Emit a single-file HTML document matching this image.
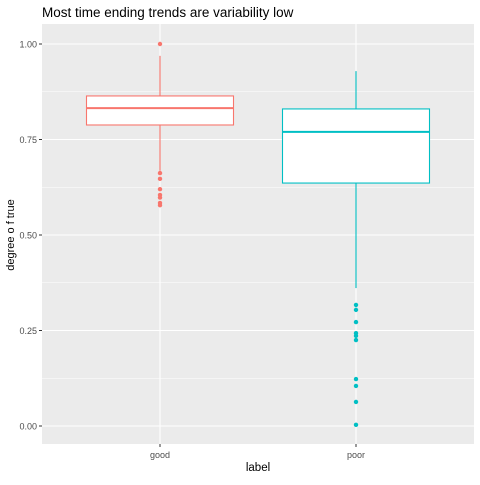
<!DOCTYPE html>
<html><head><meta charset="utf-8"><style>
body{margin:0;background:#fff;font-family:"Liberation Sans",Arial,sans-serif}
</style></head><body>
<svg id="chart" width="480" height="480" xmlns="http://www.w3.org/2000/svg">
<text x="42" y="17" font-size="13.5" fill="#000">Most time ending trends are variability low</text>
<rect x="42" y="24" width="432" height="420" fill="#EBEBEB"/>
<g id="grid"></g><g id="marks"></g><g id="axes"></g>
<text x="258" y="471" font-size="11.5" text-anchor="middle" fill="#000">label</text>
<text transform="translate(14,235) rotate(-90)" font-size="11" text-anchor="middle" fill="#000">degree o f true</text>
</svg>
<script>
const categories=["good","poor"];
const colors=["#F8766D","#00BFC4"];
const q1=[0.788,0.636];
const medians=[0.832,0.770];
const q3=[0.864,0.830];
const whiskLow=[0.668,0.361];
const whiskHigh=[0.969,0.929];
const outliersGood=[1.0,0.662,0.647,0.620,0.605,0.598,0.584,0.578];
const outliersPoor=[0.317,0.304,0.272,0.243,0.236,0.225,0.123,0.105,0.063,0.003];
const yTicks=[0,0.25,0.5,0.75,1.0];
const yTickLabels=["0.00","0.25","0.50","0.75","1.00"];
const NS="http://www.w3.org/2000/svg";
const y=v=>426-v*382;
const x=i=>160+i*196;
const halfW=73.5;
function mk(tag,attrs,parent){const e=document.createElementNS(NS,tag);for(const k in attrs)e.setAttribute(k,attrs[k]);document.getElementById(parent).appendChild(e);return e;}
for(let i=0;i<yTicks.length-1;i++){const v=(yTicks[i]+yTicks[i+1])/2;
const g=mk("line",{x1:42,x2:474,y1:y(v),y2:y(v),stroke:"#fff","stroke-width":0.6},"grid");

}
yTicks.forEach((v,i)=>{
const g=mk("line",{x1:42,x2:474,y1:y(v),y2:y(v),stroke:"#fff","stroke-width":1.1},"grid");


const t=mk("line",{x1:39,x2:42,y1:y(v),y2:y(v),stroke:"#333","stroke-width":1},"axes");


const l=mk("text",{x:37,y:y(v)+3.5,"font-size":9,"text-anchor":"end",fill:"#4D4D4D"},"axes");
l.textContent=yTickLabels[i];


});
categories.forEach((c,i)=>{
const g=mk("line",{x1:x(i),x2:x(i),y1:24,y2:444,stroke:"#fff","stroke-width":1.1},"grid");


const t=mk("line",{x1:x(i),x2:x(i),y1:444,y2:447,stroke:"#333","stroke-width":1},"axes");


const l=mk("text",{x:x(i),y:458,"font-size":9,"text-anchor":"middle",fill:"#4D4D4D"},"axes");
l.textContent=c;


const col=colors[i];
const w1=mk("line",{x1:x(i),x2:x(i),y1:y(whiskHigh[i]),y2:y(q3[i]),stroke:col,"stroke-width":1.1},"marks");


const w2=mk("line",{x1:x(i),x2:x(i),y1:y(q1[i]),y2:y(whiskLow[i]),stroke:col,"stroke-width":1.1},"marks");


const b=mk("rect",{x:x(i)-halfW,y:y(q3[i]),width:2*halfW,height:y(q1[i])-y(q3[i]),fill:"#fff",stroke:col,"stroke-width":1.1},"marks");


const m=mk("line",{x1:x(i)-halfW,x2:x(i)+halfW,y1:y(medians[i]),y2:y(medians[i]),stroke:col,"stroke-width":2},"marks");


const outs=i===0?outliersGood:outliersPoor;
outs.forEach(v=>{const p=mk("circle",{cx:x(i),cy:y(v),r:2.2,fill:col},"marks");

});
});
</script>
</body></html>
